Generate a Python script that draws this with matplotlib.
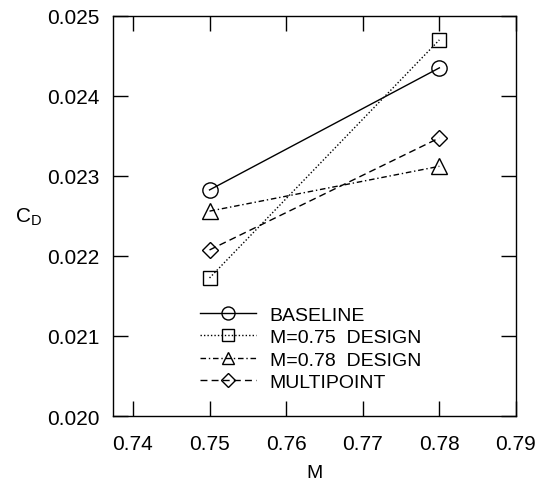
import matplotlib
matplotlib.use("Agg")
import matplotlib.pyplot as plt

plt.rcParams['font.family'] = ['Liberation Sans', 'DejaVu Sans']

mach = [0.75, 0.78]
baseline = [0.022825, 0.02435]
design075 = [0.021725, 0.02470]
design078 = [0.02256, 0.02312]
multipoint = [0.022075, 0.023475]
labels = ['BASELINE', 'M=0.75  DESIGN', 'M=0.78  DESIGN', 'MULTIPOINT']
xticks = [0.74, 0.75, 0.76, 0.77, 0.78, 0.79]
yticks = [0.020, 0.021, 0.022, 0.023, 0.024, 0.025]

fig = plt.figure(figsize=(5.46, 4.81), dpi=100)
ax = fig.add_axes([0.207, 0.133, 0.738, 0.832])

common = dict(color='black', lw=1.0, mfc='none', mec='black', mew=1.0)
ax.plot(mach, baseline, ls='-', marker='o', ms=11, label=labels[0], **common)
ax.plot(mach, design075, ls=(0, (1, 1.5)), marker='s', ms=10, label=labels[1], **common)
ax.plot(mach, design078, ls=(0, (4, 2, 1, 2)), marker='^', ms=11, label=labels[2], **common)
ax.plot(mach, multipoint, ls=(0, (5, 3)), marker='D', ms=8.5, label=labels[3], **common)

ax.set_xlim(0.7374, 0.79)
ax.set_ylim(0.020, 0.025)
ax.set_xticks(xticks)
ax.set_yticks(yticks)
ax.set_xticklabels([f'{v:.2f}' for v in xticks])
ax.set_yticklabels([f'{v:.3f}' for v in yticks])
ax.tick_params(direction='in', length=11, width=1, top=True, right=True,
               labelsize=15)
ax.tick_params(axis='x', pad=13)
ax.tick_params(axis='y', pad=10)
for s in ax.spines.values():
    s.set_linewidth(1.0)

ax.set_xlabel('M', fontsize=14, labelpad=8)
ax.set_ylabel(r'C$_\mathregular{D}$', fontsize=15, rotation=0, labelpad=13, va='center')

leg = ax.legend(loc='upper left', bbox_to_anchor=(0.215, 0.275), frameon=False,
                fontsize=14, handlelength=2.9, handletextpad=0.7, labelspacing=0.25,
                borderpad=0, borderaxespad=0, markerscale=0.85)

fig.savefig('out.png', dpi=100)
